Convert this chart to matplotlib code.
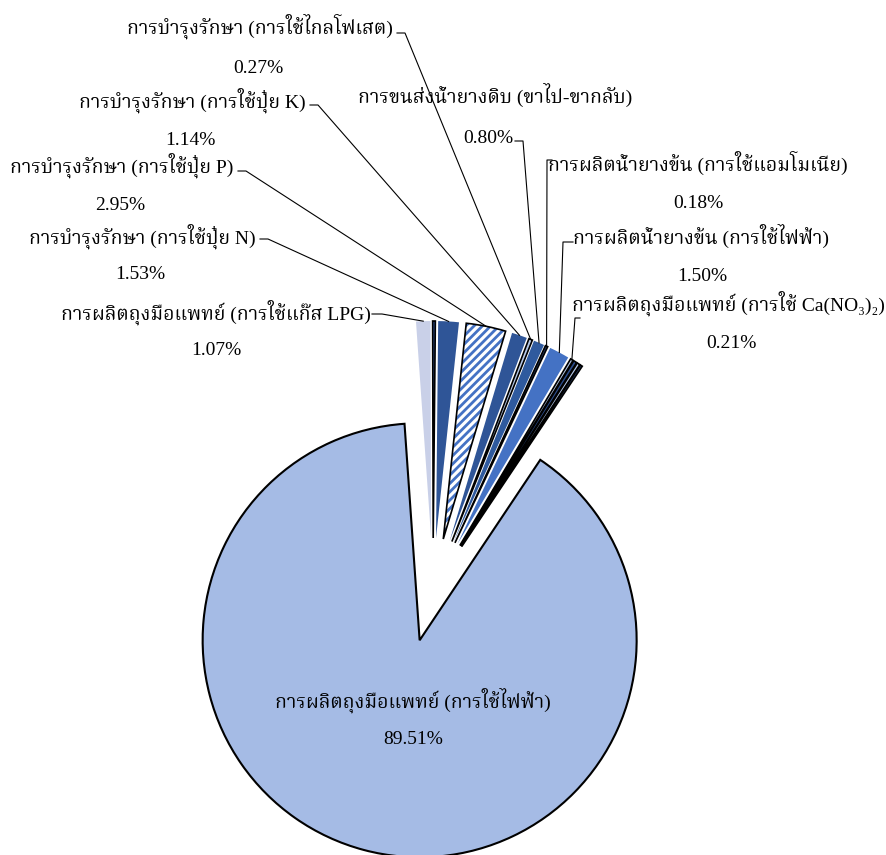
import matplotlib
matplotlib.use('Agg')
import matplotlib.pyplot as plt
from matplotlib import font_manager
from matplotlib.ft2font import FT2Font
from matplotlib.patches import Wedge
import numpy as np

# slices in clockwise order, starting just left of 12 o'clock
categories = [
    'การผลิตถุงมือแพทย์ (การใช้แก๊ส LPG)',
    '',
    'การบำรุงรักษา (การใช้ปุ๋ย N)',
    'การบำรุงรักษา (การใช้ปุ๋ย P)',
    'การบำรุงรักษา (การใช้ปุ๋ย K)',
    'การบำรุงรักษา (การใช้ไกลโฟเสต)',
    'การขนส่งน้ำยางดิบ (ขาไป-ขากลับ)',
    'การผลิตน้ำยางข้น (การใช้แอมโมเนีย)',
    'การผลิตน้ำยางข้น (การใช้ไฟฟ้า)',
    'การผลิตถุงมือแพทย์ (การใช้ Ca(NO₃)₂)',
    '',
    '',
    '',
    'การผลิตถุงมือแพทย์ (การใช้ไฟฟ้า)',
]
shares = [1.07, 0.20, 1.53, 2.95, 1.14, 0.27, 0.80, 0.18, 1.50, 0.21, 0.25, 0.22, 0.17, 89.51]

colors = ['#C9D0E8', '#2B4C8C', '#2F5597', '#FFFFFF', '#2F5597', '#B4C7E7', '#2F5A9E',
          '#1F3864', '#4472C4', '#B4C7E7', '#2B4C8C', '#B4C7E7', '#1F3864', '#A5BBE5']
edged = [False, True, False, True, False, True, False, True, False, True, True, True, True, True]

# label placement in pixels: name centre, value centre, leader start/tick end
name_pos = {0: (216, 312), 2: (142, 236), 3: (122, 165), 4: (192, 100), 5: (260, 26),
            6: (495, 95), 7: (698, 163), 8: (701, 236), 9: (728, 303), 13: (413, 700)}
value_pos = {0: (216, 350), 2: (140, 274), 3: (120, 205), 4: (190, 140), 5: (258, 68),
             6: (488, 138), 7: (698, 203), 8: (702, 276), 9: (731, 343), 13: (413, 739)}
leader = {0: ((372, 314), (382, 314)), 2: ((260, 239), (268, 239)),
          3: ((238, 171), (246, 171)), 4: ((310, 105), (318, 105)),
          5: ((397, 33), (405, 33)), 6: ((515, 141), (523, 141)),
          7: ((552, 160), (547, 160)), 8: ((573, 242), (563, 242)),
          9: ((580, 318), (575, 318))}


def find_thai_font():
    preferred = ['Noto Serif Thai', 'TH Sarabun New', 'Norasi', 'Kinnari', 'Laksaman',
                 'FreeSerif', 'Noto Sans Thai', 'Garuda', 'Loma', 'Waree', 'Tlwg Typo',
                 'FreeSans']
    found = {}
    for f in font_manager.fontManager.ttflist:
        try:
            if 0x0E01 in FT2Font(f.fname).get_charmap():
                found.setdefault(f.name, f.fname)
        except Exception:
            pass
    for name in preferred:
        if name in found:
            return name
    return next(iter(found), None)


thai = find_thai_font()
families = ['Liberation Serif'] + ([thai] if thai else []) + ['DejaVu Serif']
plt.rcParams['font.family'] = families
plt.rcParams['hatch.linewidth'] = 2.0

fig = plt.figure(figsize=(8.87, 8.55), dpi=100)
ax = fig.add_axes([0, 0, 1, 1])

wedges, _ = ax.pie(shares, startangle=94, counterclock=False, center=(433, -590),
                   radius=217, explode=[52] * len(shares), colors=colors,
                   wedgeprops=dict(linewidth=0), frame=False)
ax.set_xlim(0, 887)
ax.set_ylim(-855, 0)
ax.set_aspect('equal')
ax.axis('off')

for w, e in zip(wedges, edged):
    if e:
        w.set_edgecolor('black')
        w.set_linewidth(1.2)

# striped slice: blue hatch on white, black outline drawn on top
p = wedges[3]
p.set_edgecolor('#4472C4')
p.set_linewidth(0)
p.set_hatch('////')
ax.add_patch(Wedge(p.center, p.r, p.theta1, p.theta2, fill=False,
                   edgecolor='black', linewidth=1.2, zorder=p.get_zorder() + 0.1))

wedges[13].set_linewidth(1.5)

for i, name in enumerate(categories):
    if not name:
        continue
    nx, ny = name_pos[i]
    vx, vy = value_pos[i]
    ax.text(nx, -ny, name, ha='center', va='center', fontsize=14)
    ax.text(vx, -vy, f'{shares[i]:.2f}%', ha='center', va='center', fontsize=14)
    if i in leader:
        w = wedges[i]
        mid = np.deg2rad((w.theta1 + w.theta2) / 2)
        ex = w.center[0] + w.r * np.cos(mid)
        ey = w.center[1] + w.r * np.sin(mid)
        (x0, y0), (x1, y1) = leader[i]
        ax.plot([x0, x1, ex], [-y0, -y1, ey], color='black', linewidth=0.8)

fig.savefig('out.png', dpi=100)
